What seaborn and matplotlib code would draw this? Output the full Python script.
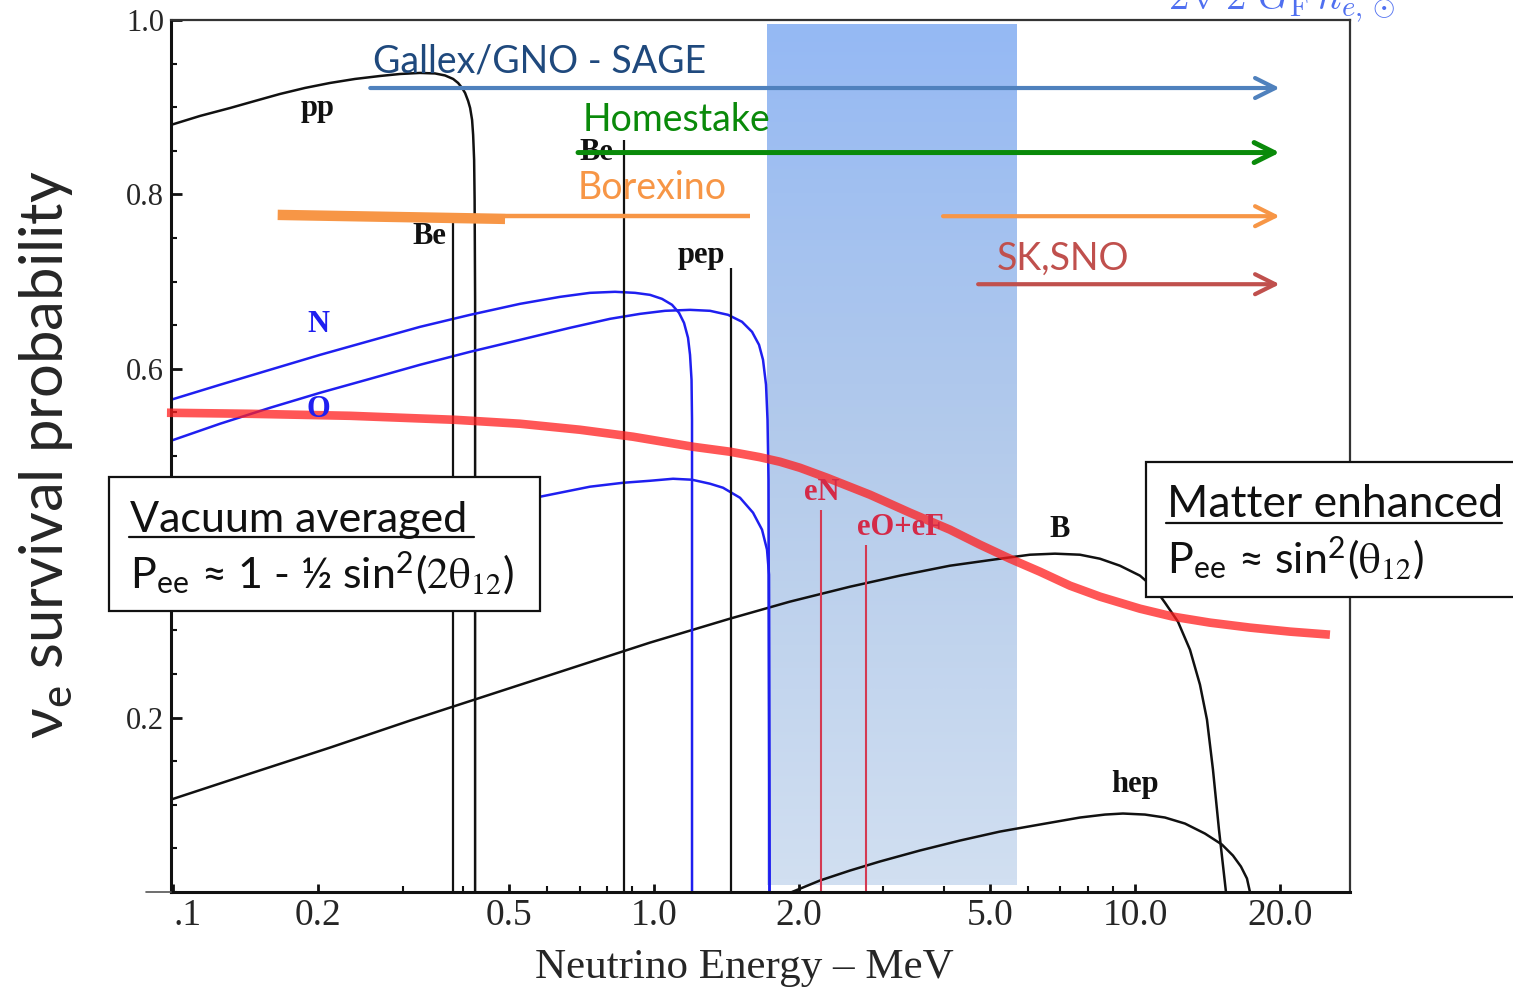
import numpy as np
import matplotlib
matplotlib.use("Agg")
import matplotlib.pyplot as plt
from matplotlib.patches import Rectangle
from matplotlib.lines import Line2D
from matplotlib.ticker import FixedLocator, FixedFormatter, LogLocator, NullFormatter, MultipleLocator
from matplotlib.colors import LinearSegmentedColormap
import seaborn as sns

# ---------------- solar neutrino spectra (arbitrary normalisation) ----------------
pp_E = [0.0990, 0.1138, 0.1314, 0.1481, 0.1669, 0.1881, 0.2120, 0.2390, 0.2694, 0.2965,
        0.3261, 0.3505, 0.3677, 0.3822, 0.3914, 0.3989, 0.4047, 0.4106, 0.4146, 0.4185,
        0.4206, 0.4226, 0.4236, 0.4246, 0.4246]
pp_P = [0.8797, 0.8900, 0.8991, 0.9072, 0.9152, 0.9221, 0.9278, 0.9324, 0.9358, 0.9381,
        0.9393, 0.9387, 0.9364, 0.9324, 0.9278, 0.9221, 0.9163, 0.9072, 0.8991, 0.8854,
        0.8682, 0.8395, 0.7937, 0.6791, 0.0]

N13_E = [0.0990, 0.1252, 0.1591, 0.2021, 0.2568, 0.3261, 0.4146, 0.5265, 0.6376, 0.7360,
         0.8296, 0.9130, 0.9810, 1.0390, 1.0900, 1.1271, 1.1544, 1.1768, 1.1881, 1.1967,
         1.1995, 1.1995]
N13_P = [0.5645, 0.5817, 0.5989, 0.6160, 0.6321, 0.6481, 0.6619, 0.6745, 0.6825, 0.6871,
         0.6883, 0.6871, 0.6848, 0.6802, 0.6734, 0.6642, 0.6527, 0.6355, 0.6160, 0.5874,
         0.5415, 0.0]

O15_E = [0.0990, 0.1252, 0.1591, 0.2021, 0.2568, 0.3261, 0.4146, 0.5265, 0.6688, 0.8100,
         0.9351, 1.0541, 1.1881, 1.3076, 1.4253, 1.5240, 1.5988, 1.6532, 1.6851, 1.7095,
         1.7218, 1.7301, 1.7384]
O15_P = [0.5175, 0.5370, 0.5553, 0.5725, 0.5885, 0.6046, 0.6195, 0.6332, 0.6470, 0.6573,
         0.6630, 0.6665, 0.6676, 0.6665, 0.6619, 0.6539, 0.6424, 0.6275, 0.6103, 0.5817,
         0.5415, 0.4728, 0.0]

F17_E = [0.0990, 0.1446, 0.2333, 0.3767, 0.5794, 0.7360, 0.8622, 0.9810, 1.0952, 1.1995,
         1.3076, 1.3916, 1.5095, 1.6064, 1.6771, 1.7177, 1.7343, 1.7384]
F17_P = [0.3524, 0.3754, 0.4040, 0.4327, 0.4533, 0.4648, 0.4693, 0.4716, 0.4739, 0.4728,
         0.4682, 0.4636, 0.4521, 0.4350, 0.4155, 0.3926, 0.3639, 0.0]

B8_E = [0.0990, 0.1446, 0.2120, 0.3110, 0.4560, 0.6688, 0.9810, 1.4391, 1.9173, 2.5556,
        3.2460, 4.1241, 5.2395, 6.0490, 6.8171, 7.6846, 8.4580, 9.3060, 10.2424, 11.0055,
        11.5453, 12.2863, 13.0130, 13.6515, 14.1171, 14.5279, 14.9520, 15.4614]
B8_P = [0.1060, 0.1358, 0.1656, 0.1966, 0.2264, 0.2562, 0.2860, 0.3135, 0.3330, 0.3501,
        0.3628, 0.3742, 0.3822, 0.3868, 0.3880, 0.3868, 0.3822, 0.3742, 0.3628, 0.3479,
        0.3318, 0.3100, 0.2779, 0.2378, 0.1977, 0.1404, 0.0716, 0.0]

hep_E = [1.9358, 2.2134, 2.5556, 2.9500, 3.5727, 4.3265, 5.2395, 6.3459, 7.6846, 8.6622,
         9.4405, 10.4906, 11.5453, 12.7045, 13.9826, 15.1683, 15.9877, 16.6105, 17.0960, 17.3432]
hep_P = [0.0, 0.0132, 0.0246, 0.0350, 0.0476, 0.0590, 0.0693, 0.0774, 0.0854, 0.0888,
         0.0900, 0.0888, 0.0854, 0.0785, 0.0670, 0.0544, 0.0418, 0.0292, 0.0155, 0.0]

# mono-energetic lines: energy (MeV) and drawn height
be7_E = [0.382, 0.866]
be7_top = [0.767, 0.862]
pep_E = [1.445]
pep_top = [0.716]
ecno_E = [2.22, 2.76]
ecno_top = [0.438, 0.398]

# electron-neutrino survival probability (MSW-LMA)
Pee_E = [0.0971, 0.1446, 0.2333, 0.3859, 0.5265, 0.7018, 0.9043, 1.2051, 1.4391, 1.6611,
         1.8277, 2.0111, 2.2887, 2.8117, 3.4050, 4.1241, 4.7610, 5.4962, 6.3459, 7.3255,
         8.4580, 10.2424, 11.9952, 14.3212, 17.3432, 21.0069, 25.4345]
Pee_P = [0.5496, 0.5484, 0.5461, 0.5415, 0.5370, 0.5301, 0.5221, 0.5106, 0.5049, 0.4986,
         0.4934, 0.4865, 0.4751, 0.4556, 0.4350, 0.4155, 0.3983, 0.3822, 0.3673, 0.3513,
         0.3387, 0.3249, 0.3158, 0.3089, 0.3032, 0.2986, 0.2951]

# MSW transition region (MeV) and its vertical extent
band_E = [1.72, 5.71]
band_P = [0.0075, 0.995]

# detector thresholds: start energy (MeV), arrow height
det_names = ["Gallex/GNO - SAGE", "Homestake", "Borexino", "SK,SNO"]
det_start = [0.257, 0.695, 3.99, 4.72]
det_level = [0.922, 0.848, 0.775, 0.697]
arrow_end = 20.0
# Borexino low-energy measurements
borex_thick_E = [0.165, 0.490]
borex_thick_P = [0.7765, 0.7719]
borex_thin_E = [0.490, 1.584]
borex_thin_P = [0.7748, 0.7748]

x_ticks = [0.1, 0.2, 0.5, 1.0, 2.0, 5.0, 10.0, 20.0]
x_ticklabels = [".1", "0.2", "0.5", "1.0", "2.0", "5.0", "10.0", "20.0"]
y_ticks = [0.2, 0.4, 0.6, 0.8, 1.0]
y_ticklabels = ["0.2", "", "0.6", "0.8", "1.0"]

# ---------------- styling ----------------
sns.set_style("ticks")
plt.rcParams["font.family"] = ["Lato", "DejaVu Sans"]
SERIF = "Liberation Serif"
SANS = ["Lato", "DejaVu Sans"]

W, H = 1513, 989
fig = plt.figure(figsize=(W / 100, H / 100), dpi=100)
ax = fig.add_axes([171 / W, 1 - 892 / H, (1350 - 171) / W, (892 - 20) / H])
ax.set_xscale("log")


def fx(px):
    return px / W


def fy(py):
    return 1 - py / H


# shaded MSW transition band with a vertical gradient
band_cmap = LinearSegmentedColormap.from_list("band", ["#d1dff1", "#b4cbeb", "#95b9f4"])
grad = np.linspace(0, 1, 256).reshape(-1, 1)
ax.imshow(grad, extent=[band_E[0], band_E[1], band_P[0], band_P[1]], origin="lower",
          cmap=band_cmap, aspect="auto", zorder=0.5, interpolation="bilinear")


def curve(E, P, color, lw, z=2, **kw):
    sns.lineplot(x=E, y=P, ax=ax, sort=False, estimator=None, color=color,
                 linewidth=lw, zorder=z, legend=False, **kw)


BLK = "#111111"
BLUE = "#1f1ff0"
curve(pp_E, pp_P, BLK, 1.8)
curve(B8_E, B8_P, BLK, 1.8)
curve(hep_E, hep_P, BLK, 1.8)
curve(N13_E, N13_P, BLUE, 1.8)
curve(O15_E, O15_P, BLUE, 1.8)
curve(F17_E, F17_P, BLUE, 1.8)

ax.vlines(be7_E, 0, be7_top, color=BLK, lw=1.6, zorder=2)
ax.vlines(pep_E, 0, pep_top, color=BLK, lw=1.6, zorder=2)
ax.vlines(ecno_E, 0, ecno_top, color="#d43a52", lw=1.5, zorder=2)

# survival probability
curve(Pee_E, Pee_P, "#ff1e1e", 6.2, z=3, alpha=0.75, clip_on=False, solid_capstyle="butt")

# detector threshold arrows
det_line_colors = ["#4f81bd", "#0a8a0a", "#f79646", "#c0504d"]
det_text_colors = ["#1f497d", "#0a8a0a", "#f79646", "#c0504d"]
det_lw = [3.0, 3.6, 3.0, 3.0]
for s, lev, c, lw in zip(det_start, det_level, det_line_colors, det_lw):
    ax.annotate("", xy=(arrow_end, lev), xytext=(s, lev),
                arrowprops=dict(arrowstyle="->", color=c, lw=lw, mutation_scale=36,
                                shrinkA=0, shrinkB=0), zorder=5)
curve(borex_thick_E, borex_thick_P, "#f79646", 7.5, z=5, solid_capstyle="butt")
curve(borex_thin_E, borex_thin_P, "#f79646", 3.2, z=5, solid_capstyle="butt")

det_text_pos = [(0.2605, 0.9393), (0.7117, 0.8730), (0.695, 0.7948), (5.166, 0.7135)]
for name, (xe, yp), c in zip(det_names, det_text_pos, det_text_colors):
    ax.text(xe, yp, name, color=c, fontsize=27, family=SANS, ha="left", va="baseline", zorder=6)

# source labels
lab = dict(family=SERIF, weight="bold", fontsize=22, ha="center", va="center", zorder=6)
ax.text(0.2002, 0.899, "pp", color=BLK, **lab)
ax.text(0.3405, 0.7513, "Be", color=BLK, **lab)
ax.text(0.7574, 0.8475, "Be", color=BLK, **{**lab, "zorder": 4})
ax.text(1.2525, 0.7295, "pep", color=BLK, **lab)
ax.text(0.2002, 0.6504, "N", color=BLUE, **lab)
ax.text(0.2002, 0.553, "O", color=BLUE, **lab)
ax.text(6.985, 0.4155, "B", color=BLK, **lab)
ax.text(10.0, 0.1232, "hep", color=BLK, **lab)
ax.text(2.235, 0.4579, "eN", color="#d42a48", **lab)
ax.text(3.246, 0.4178, "eO+eF", color="#d42a48", **lab)

# axes, ticks and frame
ax.set_xlim(0.099, 28.0)
ax.set_ylim(0, 1.0)
ax.xaxis.set_major_locator(FixedLocator(x_ticks))
ax.xaxis.set_major_formatter(FixedFormatter(x_ticklabels))
ax.xaxis.set_minor_locator(LogLocator(base=10, subs=np.arange(2, 10)))
ax.xaxis.set_minor_formatter(NullFormatter())
ax.yaxis.set_major_locator(FixedLocator(y_ticks))
ax.yaxis.set_major_formatter(FixedFormatter(y_ticklabels))
ax.yaxis.set_minor_locator(MultipleLocator(0.05))
ax.tick_params(which="major", direction="in", length=8, width=2, color="#111111")
ax.tick_params(which="minor", direction="in", length=4, width=1.5, color="#111111")
ax.tick_params(axis="y", which="major", labelsize=22, pad=5)
ax.tick_params(axis="x", which="major", labelsize=27, pad=5, length=6)
for t in ax.get_xticklabels() + ax.get_yticklabels():
    t.set_family(SERIF)
ax.get_xticklabels()[0].set_ha("left")
ax.grid(False)
for side in ["left", "bottom"]:
    ax.spines[side].set_linewidth(2.2)
    ax.spines[side].set_color("#111111")
for side in ["top", "right"]:
    ax.spines[side].set_linewidth(1.6)
    ax.spines[side].set_color("#333333")
fig.add_artist(Line2D([fx(146), fx(171)], [fy(892), fy(892)], color="#555555", lw=1.2))

ax.set_xlabel("")
ax.set_ylabel("")
fig.text(fx(744), fy(978), "Neutrino Energy \u2013 MeV", family=SERIF, fontsize=31,
         ha="center", va="baseline")
fig.text(fx(46), fy(455), "\u03bd$_\\mathregular{e}$ survival probability",
         family=SANS, fontsize=43, rotation=90, ha="center", va="center")

# partial formula at the top edge
fig.text(fx(1168), fy(10), r"$2\sqrt{2}\,G_{\rm F}\,n_{e,\odot}$", math_fontfamily="cm",
         color="#4f6ff0", fontsize=29.5, ha="left", va="baseline")

# annotation boxes
fig.add_artist(Rectangle((fx(109), fy(611)), (540 - 109) / W, (611 - 477) / H,
                         transform=fig.transFigure, facecolor="white", edgecolor="#111111",
                         lw=1.6, zorder=20))
fig.add_artist(Rectangle((fx(1146), fy(597)), (1530 - 1146) / W, (597 - 462) / H,
                         transform=fig.transFigure, facecolor="white", edgecolor="#111111",
                         lw=1.6, zorder=20))
box_txt = dict(family=SANS, fontsize=31, ha="left", va="baseline", zorder=21, color="#111111")
fig.text(fx(130), fy(532), "Vacuum averaged", **box_txt)
fig.add_artist(Line2D([fx(129), fx(474)], [fy(537), fy(537)], color="#111111", lw=1.6, zorder=21))
fig.text(fx(130), fy(588),
         "P$_\\mathregular{ee}$ \u2248 1 - \u00bd sin$^\\mathregular{2}$($\\mathrm{2\\theta_{12}}$)",
         math_fontfamily="stix", **box_txt)
fig.text(fx(1167), fy(517), "Matter enhanced", fontsize=32,
         **{k: v for k, v in box_txt.items() if k != "fontsize"})
fig.add_artist(Line2D([fx(1166), fx(1502)], [fy(523), fy(523)], color="#111111", lw=1.6, zorder=21))
fig.text(fx(1167), fy(573),
         "P$_\\mathregular{ee}$ \u2248 sin$^\\mathregular{2}$($\\mathrm{\\theta_{12}}$)",
         math_fontfamily="stix", **box_txt)

fig.savefig("out.png", dpi=100)
